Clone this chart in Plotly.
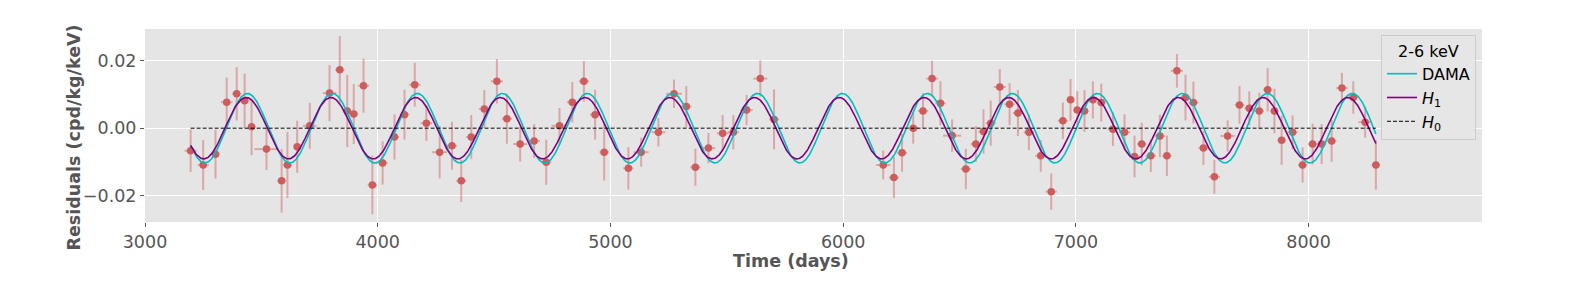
import numpy as np
import plotly.graph_objects as go

# ---- data ----
t_days = [3196, 3250, 3303, 3351, 3394, 3428, 3458, 3522, 3587, 3612,
          3654, 3708, 3793, 3837, 3869, 3897, 3939, 3977, 4021, 4072,
          4115, 4159, 4209, 4266, 4319, 4359, 4402, 4458, 4512, 4555,
          4612, 4672, 4724, 4781, 4836, 4886, 4934, 4973, 5077, 5132,
          5206, 5273, 5326, 5365, 5421, 5482, 5528, 5585, 5644, 5703,
          6172, 6218, 6253, 6301, 6343, 6382, 6418, 6468, 6527, 6570,
          6603, 6634, 6673, 6715, 6751, 6798, 6849, 6894, 6944, 6977,
          7006, 7037, 7073, 7109, 7159, 7209, 7252, 7283, 7322, 7361,
          7391, 7434, 7471, 7505, 7548, 7595, 7652, 7703, 7745, 7788,
          7824, 7853, 7884, 7931, 7974, 8017, 8056, 8099, 8143, 8192,
          8243, 8289]
residuals = [-0.0067, -0.0109, -0.0077, 0.0077, 0.0102, 0.0081, 0.0004, -0.0062, -0.0156, -0.0109,
             -0.0055, 0.0007, 0.0104, 0.0173, 0.0051, 0.0042, 0.0126, -0.0168, -0.0103, -0.0026,
             0.0040, 0.0129, 0.0015, -0.0071, -0.0052, -0.0156, -0.0026, 0.0057, 0.0139, 0.0028,
             -0.0047, -0.0038, -0.0101, 0.0007, 0.0077, 0.0139, 0.0040, -0.0071, -0.0119, -0.0071,
             -0.0012, 0.0102, 0.0064, -0.0116, -0.0059, -0.0015, -0.0012, 0.0054, 0.0147, 0.0026,
             -0.0109, -0.0146, -0.0073, 0.0000, 0.0051, 0.0147, 0.0074, -0.0022, -0.0121, -0.0047,
             -0.0010, 0.0015, 0.0122, 0.0071, 0.0045, -0.0012, -0.0082, -0.0188, 0.0022, 0.0084,
             0.0054, 0.0051, 0.0084, 0.0076, -0.0003, -0.0012, -0.0084, -0.0047, -0.0082, -0.0023,
             -0.0082, 0.0170, 0.0091, 0.0076, -0.0059, -0.0144, -0.0023, 0.0069, 0.0059, 0.0051,
             0.0114, 0.0051, -0.0036, -0.0012, -0.0109, -0.0047, -0.0047, -0.0038, 0.0119, 0.0091,
             0.0018, -0.0109]
err_res = [0.0063, 0.0074, 0.0072, 0.0073, 0.0079, 0.0081, 0.0084, 0.0062, 0.0094, 0.0098,
           0.0077, 0.0068, 0.0083, 0.0100, 0.0107, 0.0089, 0.0080, 0.0087, 0.0064, 0.0067,
           0.0074, 0.0065, 0.0053, 0.0078, 0.0071, 0.0063, 0.0065, 0.0056, 0.0066, 0.0074,
           0.0052, 0.0050, 0.0067, 0.0053, 0.0060, 0.0060, 0.0074, 0.0084, 0.0063, 0.0043,
           0.0042, 0.0042, 0.0061, 0.0055, 0.0045, 0.0054, 0.0051, 0.0045, 0.0054, 0.0089,
           0.0043, 0.0061, 0.0056, 0.0046, 0.0053, 0.0053, 0.0065, 0.0048, 0.0060, 0.0053,
           0.0066, 0.0067, 0.0053, 0.0062, 0.0068, 0.0053, 0.0047, 0.0054, 0.0054, 0.0062,
           0.0056, 0.0062, 0.0055, 0.0056, 0.0050, 0.0053, 0.0062, 0.0063, 0.0048, 0.0063,
           0.0060, 0.0050, 0.0068, 0.0062, 0.0050, 0.0050, 0.0046, 0.0056, 0.0050, 0.0054,
           0.0064, 0.0066, 0.0073, 0.0050, 0.0052, 0.0060, 0.0059, 0.0062, 0.0045, 0.0048,
           0.0046, 0.0073]
err_t = [26, 24, 17, 25, 20, 20, 18, 52, 20, 20,
         17, 29, 29, 20, 18, 18, 24, 20, 22, 20,
         20, 25, 25, 32, 22, 22, 22, 24, 26, 22,
         30, 25, 22, 34, 23, 22, 22, 20, 22, 32,
         30, 34, 22, 22, 29, 25, 24, 26, 30, 22,
         31, 22, 22, 22, 22, 25, 22, 39, 22, 22,
         22, 22, 26, 22, 22, 22, 24, 24, 22, 18,
         18, 18, 20, 20, 22, 24, 22, 20, 22, 22,
         20, 26, 22, 22, 22, 24, 31, 20, 20, 20,
         20, 18, 18, 22, 20, 20, 20, 20, 25, 22,
         29, 18]

# model parameters (amplitude, period in days, phase in days)
dama_params = (0.0103, 365.25, 152.5)
h1_params = (0.0091, 364.1, 157.6)

x_ticks = [3000, 4000, 5000, 6000, 7000, 8000]
y_ticks = [-0.02, 0.0, 0.02]

assert len(t_days) == len(residuals) == len(err_res) == len(err_t)

t_model = np.linspace(t_days[0], t_days[-1], 2000)


def cosine(params, t):
    a, T, t0 = params
    return a * np.cos(2 * np.pi * (t - t0) / T)


font_family = "DejaVu Sans"
tick_size = 17.5
title_size = 17.5
fig = go.Figure()

fig.add_trace(go.Scatter(
    x=t_days, y=residuals, mode="markers",
    marker=dict(color="#cd5c5c", size=7.5),
    error_y=dict(type="data", array=err_res, color="rgba(205,92,92,0.45)", thickness=2, width=0),
    error_x=dict(type="data", array=err_t, color="rgba(205,92,92,0.45)", thickness=2, width=0),
    showlegend=False, hoverinfo="skip",
))
fig.add_trace(go.Scatter(
    x=t_model, y=cosine(dama_params, t_model), mode="lines",
    line=dict(color="#00bfbf", width=1.6), name="DAMA",
))
fig.add_trace(go.Scatter(
    x=t_model, y=cosine(h1_params, t_model), mode="lines",
    line=dict(color="#800080", width=1.6), name="<i>H</i><sub>1</sub>",
))
fig.add_trace(go.Scatter(
    x=[t_days[0], t_days[-1]], y=[0, 0], mode="lines",
    line=dict(color="black", width=1, dash="4px,2px"), name="<i>H</i><sub>0</sub>",
))

fig.update_layout(
    width=1569, height=281,
    margin=dict(l=145, r=87, t=29, b=59),
    paper_bgcolor="white", plot_bgcolor="#e5e5e5",
    font=dict(family=font_family, color="#555555", size=16),
    legend=dict(
        x=0.9955, y=0.969, xanchor="right", yanchor="top",
        bgcolor="rgba(229,229,229,0.9)", bordercolor="#cccccc", borderwidth=1,
        font=dict(size=16, color="black", family=font_family),
        title=dict(text="2-6 keV", side="top center", font=dict(size=16, color="black")),
        itemwidth=30, tracegroupgap=0,
    ),
    annotations=[
        dict(text="<b>Time (days)</b>", xref="paper", yref="paper",
             x=0.483, y=-0.202, xanchor="center", yanchor="middle", showarrow=False,
             font=dict(size=title_size, color="#555555", family=font_family)),
        dict(text="<b>Residuals (cpd/kg/keV)</b>", xref="paper", yref="paper",
             x=-0.0531, y=0.438, xanchor="center", yanchor="middle", showarrow=False,
             textangle=-90,
             font=dict(size=title_size, color="#555555", family=font_family)),
    ],
)
fig.update_xaxes(
    range=[3000, 8745], tickvals=x_ticks, ticktext=[str(v) for v in x_ticks],
    showgrid=True, gridcolor="white", gridwidth=1, zeroline=False,
    ticks="outside", ticklen=4, tickcolor="#555555",
    tickfont=dict(size=tick_size, color="#555555"),
    showline=False,
)
fig.update_yaxes(
    range=[-0.0278, 0.0294], tickvals=y_ticks,
    ticktext=["\u22120.02", "0.00", "0.02"],
    showgrid=True, gridcolor="white", gridwidth=1, zeroline=False,
    ticks="outside", ticklen=4, tickcolor="#555555",
    tickfont=dict(size=tick_size, color="#555555"),
    showline=False,
)

fig.write_html("out.html")
